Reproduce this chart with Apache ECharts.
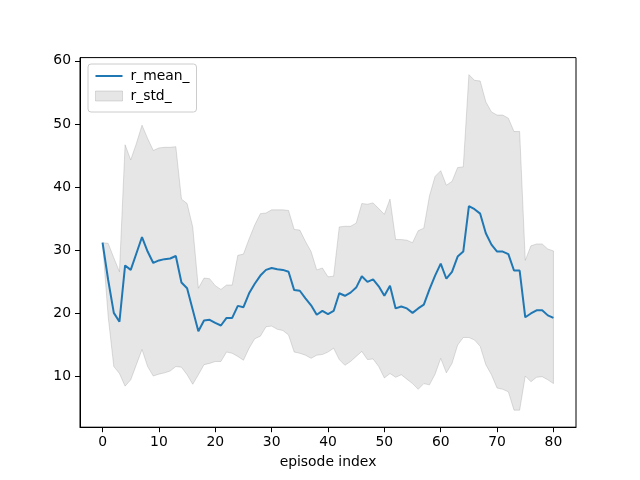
<!DOCTYPE html>
<html>
<head>
<meta charset="utf-8">
<script src="https://cdn.jsdelivr.net/npm/echarts@6/dist/echarts.min.js"></script>
<style>
html,body{margin:0;padding:0;background:#fff;}
#chart{width:640px;height:480px;}
</style>
</head>
<body>
<div id="chart"></div>
<script>
const episodes = Array.from({length: 81}, (_, i) => i);
const rMean = [31.2, 25.3, 20.1, 18.7, 27.6, 26.9, 29.5, 32.1, 29.8, 28.0,
  28.4, 28.6, 28.7, 29.1, 24.9, 24.0, 20.6, 17.2, 18.9, 19.0,
  18.5, 18.1, 19.3, 19.3, 21.2, 21.0, 23.2, 24.7, 26.0, 26.9,
  27.2, 27.0, 26.9, 26.6, 23.7, 23.6, 22.4, 21.3, 19.8, 20.4,
  19.9, 20.4, 23.2, 22.8, 23.3, 24.1, 25.9, 25.0, 25.4, 24.3,
  22.8, 24.4, 20.8, 21.1, 20.8, 20.1, 20.8, 21.4, 23.8, 26.0,
  27.9, 25.5, 26.6, 29.0, 29.8, 37.0, 36.5, 35.8, 32.7, 30.9,
  29.8, 29.8, 29.4, 26.8, 26.8, 19.4, 20.0, 20.5, 20.5, 19.7, 19.3];
const rUpper = [31.2, 31.1, 28.8, 26.6, 46.7, 44.3, 46.9, 49.8, 47.7, 45.8,
  46.2, 46.3, 46.3, 46.4, 38.1, 37.4, 33.7, 24.0, 25.6, 25.5,
  24.4, 23.8, 24.5, 24.5, 29.2, 29.4, 31.8, 34.0, 35.8, 35.9,
  36.4, 36.4, 36.4, 36.3, 33.3, 33.2, 31.4, 29.8, 26.9, 27.2,
  25.8, 25.9, 33.7, 33.8, 33.8, 34.3, 37.4, 37.3, 37.5, 36.6,
  35.7, 38.1, 31.7, 31.7, 31.6, 31.2, 33.1, 33.5, 38.6, 41.7,
  42.6, 40.3, 40.9, 43.1, 43.2, 57.8, 56.9, 56.8, 53.5, 51.9,
  51.4, 51.4, 50.9, 48.8, 48.8, 28.4, 30.7, 31.0, 31.0, 30.2, 29.9];
const rLower = [31.2, 19.5, 11.6, 10.5, 8.5, 9.5, 11.9, 14.3, 11.6, 10.1,
  10.4, 10.6, 10.9, 11.6, 11.5, 10.3, 8.8, 10.3, 11.9, 12.1,
  12.4, 12.4, 13.9, 13.7, 13.2, 12.6, 14.5, 16.0, 16.4, 17.9,
  18.0, 17.5, 17.3, 16.6, 13.9, 13.7, 13.4, 12.9, 13.4, 13.5,
  13.9, 14.5, 12.7, 11.8, 12.4, 13.2, 14.0, 12.7, 12.8, 11.6,
  9.8, 10.5, 9.9, 10.3, 9.6, 8.9, 8.0, 8.9, 8.7, 10.4,
  12.9, 10.6, 12.1, 15.0, 16.2, 16.2, 15.8, 14.8, 11.9, 10.3,
  8.2, 8.0, 7.6, 4.7, 4.7, 10.1, 9.2, 9.9, 10.0, 9.5, 8.9];
const xTicks = [0, 10, 20, 30, 40, 50, 60, 70, 80];
const yTicks = [10, 20, 30, 40, 50, 60];

const FONT = 'DejaVu Sans';
const FS = 13.9;
const meanColor = '#1f77b4';
const bandFill = 'rgba(128,128,128,0.2)';
const bandEdge = 'rgba(128,128,128,0.25)';

const chart = echarts.init(document.getElementById('chart'), null, {renderer: 'canvas'});
chart.setOption({
  animation: false,
  backgroundColor: '#ffffff',
  textStyle: {fontFamily: FONT},
  grid: {left: 80, right: 64, top: 57.6, bottom: 52.8, show: true, borderColor: '#000', borderWidth: 1, backgroundColor: 'transparent'},
  legend: {
    orient: 'vertical', left: 88, top: 64,
    backgroundColor: 'rgba(255,255,255,0.8)', borderColor: '#cccccc', borderWidth: 1, borderRadius: 3,
    padding: [5, 7, 9, 7], itemGap: 6, itemWidth: 27, itemHeight: 10,
    symbolKeepAspect: true,
    textStyle: {fontFamily: FONT, fontSize: FS, color: '#000', padding: [0, 0, 0, 3]},
    data: [
      {name: 'r_mean_', icon: 'path://M0,0L27,0L27,2L0,2Z', itemStyle: {color: meanColor}, lineStyle: {width: 0}},
      {name: 'r_std_', icon: 'rect', itemStyle: {color: bandFill, borderColor: bandEdge, borderWidth: 1}}
    ]
  },
  xAxis: {
    type: 'value', min: -4, max: 84,
    name: 'episode index', nameLocation: 'middle', nameGap: 28,
    nameTextStyle: {fontFamily: FONT, fontSize: FS, color: '#000'},
    axisLine: {show: true, onZero: false, lineStyle: {color: '#000', width: 1}},
    axisTick: {show: true, length: 5, lineStyle: {color: '#000', width: 1}, customValues: xTicks},
    axisLabel: {fontFamily: FONT, fontSize: FS, color: '#000', margin: 8, customValues: xTicks},
    splitLine: {show: false}
  },
  yAxis: {
    type: 'value', min: 2.0, max: 60.5,
    axisLine: {show: true, onZero: false, lineStyle: {color: '#000', width: 1}},
    axisTick: {show: true, length: 5, lineStyle: {color: '#000', width: 1}, customValues: yTicks},
    axisLabel: {fontFamily: FONT, fontSize: FS, color: '#000', margin: 9, customValues: yTicks},
    splitLine: {show: false}
  },
  series: [
    {
      name: 'r_std_', type: 'custom', silent: true, z: 1,
      itemStyle: {color: bandFill},
      data: [[episodes[0], rMean[0]]],
      renderItem: function (params, api) {
        const pts = [];
        for (let i = 0; i < episodes.length; i++) pts.push(api.coord([episodes[i], rUpper[i]]));
        for (let i = episodes.length - 1; i >= 0; i--) pts.push(api.coord([episodes[i], rLower[i]]));
        return {
          type: 'polygon',
          shape: {points: pts},
          style: {fill: bandFill, stroke: bandEdge, lineWidth: 1}
        };
      }
    },
    {
      name: 'r_mean_', type: 'line', symbol: 'none',
      data: episodes.map((x, i) => [x, rMean[i]]),
      lineStyle: {color: meanColor, width: 2},
      itemStyle: {color: meanColor},
      z: 3
    }
  ]
});
</script>
</body>
</html>
